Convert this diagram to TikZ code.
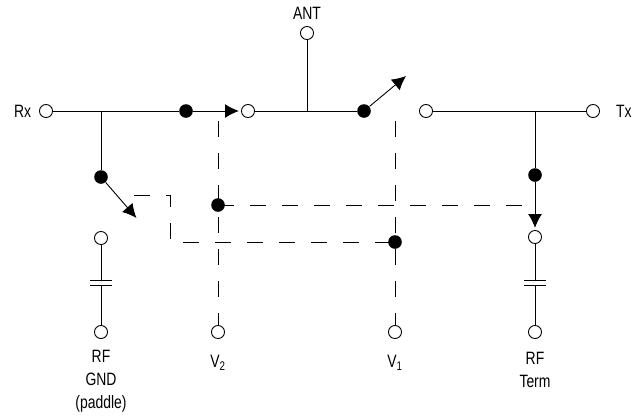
\documentclass[tikz,border=0pt]{standalone}
\usepackage{fontspec}
\setmainfont[FakeStretch=0.78]{Liberation Sans}
\usetikzlibrary{arrows.meta}
\begin{document}
\begin{tikzpicture}[line width=0.68pt]
                \tikzset{ opendot/.style={circle,draw,fill=white,inner sep=0pt,minimum size=9.8pt},
                        blackdot/.style={circle,fill=black,inner sep=0pt,minimum size=10.2pt},
                        arrow/.style={-{Latex[length=10.4pt,width=10.4pt]}, shorten >=1.6pt},
                        tiparrow/.style={-{Latex[length=10.4pt,width=10.4pt]}},
                        ctrl/.style={dash pattern=on 12pt off 12pt},
                        lbl/.style={font=\fontsize{13.4}{17}\selectfont, align=center}}
                \useasboundingbox (0pt,0pt) rectangle (477pt,-311.25pt);

                % ligne principale
                \node[opendot] (rx) at (34.5pt,-83.25pt) {};
                \coordinate[right of = rx, node distance=41.25pt] (rxtee);
                \node[blackdot, right of = rx, node distance=105pt] (rxdot) {};
                \node[opendot, right of = rxdot, node distance=46.5pt] (swin) {};
                \coordinate[right of = swin, node distance=44.25pt] (anttee);
                \node[opendot, above of = anttee, node distance=58.5pt] (ant) {};
                \node[blackdot, right of = anttee, node distance=42.75pt] (txdot) {};
                \coordinate[right of = txdot, node distance=31.5pt, yshift=26.25pt] (txtip);
                \node[opendot, right of = txdot, node distance=46.5pt] (swout) {};
                \coordinate[right of = swout, node distance=81.75pt] (txtee);
                \node[opendot, right of = txtee, node distance=43.5pt] (tx) {};

                % branche RF Term
                \node[blackdot, below of = txtee, node distance=48pt] (termdot) {};
                \node[opendot, below of = termdot, node distance=46.5pt] (termtop) {};
                \node[opendot, below of = termtop, node distance=71.25pt] (termbot) {};
                \coordinate[below of = termtop, node distance=32.25pt] (termcapa);
                \coordinate[below of = termtop, node distance=36.25pt] (termcapb);

                % branche RF GND
                \node[blackdot, below of = rxtee, node distance=49.5pt] (gnddot) {};
                \coordinate[right of = gnddot, node distance=26.6pt, yshift=-30.75pt] (gndtip);
                \node[opendot, below of = gnddot, node distance=45.75pt] (gndtop) {};
                \node[opendot, below of = gndtop, node distance=70.5pt] (gndbot) {};
                \coordinate[below of = gndtop, node distance=31.5pt] (gndcapa);
                \coordinate[below of = gndtop, node distance=35.5pt] (gndcapb);

                % commandes
                \node[blackdot, right of = rxdot, node distance=24pt, yshift=-70.5pt] (vtwodot) {};
                \coordinate[above of = vtwodot, node distance=63pt] (vtwotop);
                \node[opendot, below of = vtwodot, node distance=95.25pt] (vtwo) {};
                \coordinate[right of = vtwodot, node distance=228pt] (vtwoend);
                \node[blackdot, right of = txdot, node distance=23.25pt, yshift=-98.25pt] (vonedot) {};
                \coordinate[above of = vonedot, node distance=90.75pt] (vonetop);
                \node[opendot, below of = vonedot, node distance=67.5pt] (vone) {};
                \coordinate[right of = gnddot, node distance=25pt, yshift=-13.5pt] (gndstub);
                \coordinate[right of = gndstub, node distance=27pt, yshift=-35.25pt] (gndbend);

                % Labels
                \node[lbl, left of = rx, node distance=17.6pt, yshift=-0.6pt] (rxlbl) {Rx};
                \node[lbl, right of = tx, node distance=23.2pt, yshift=-0.6pt] (txlbl) {Tx};
                \node[lbl, above of = ant, node distance=15pt] (antlbl) {ANT};
                \node[lbl, below of = gndbot, node distance=36.8pt] (gndlbl) {RF\\GND\\(paddle)};
                \node[lbl, below of = termbot, node distance=28.4pt] (termlbl) {RF\\Term};
                \node[lbl, below of = vtwo, node distance=23pt] (vtwolbl) {V\textsubscript{2}};
                \node[lbl, below of = vone, node distance=23pt] (vonelbl) {V\textsubscript{1}};

                % Fils
                \draw (rx) -- (rxdot);
                \draw[arrow] (rxdot) -- (swin);
                \draw (swin) -- (txdot);
                \draw (ant) -- (anttee);
                \draw[tiparrow] (txdot) -- (txtip);
                \draw (swout) -- (tx);
                \draw (txtee) -- (termdot);
                \draw[arrow] (termdot) -- (termtop);
                \draw (termtop) -- (termcapa);
                \draw (termcapb) -- (termbot);
                \draw ([xshift=-8.1pt]termcapa) -- ([xshift=8.1pt]termcapa);
                \draw ([xshift=-8.1pt]termcapb) -- ([xshift=8.1pt]termcapb);
                \draw (rxtee) -- (gnddot);
                \draw[tiparrow] (gnddot) -- (gndtip);
                \draw (gndtop) -- (gndcapa);
                \draw (gndcapb) -- (gndbot);
                \draw ([xshift=-8.1pt]gndcapa) -- ([xshift=8.1pt]gndcapa);
                \draw ([xshift=-8.1pt]gndcapb) -- ([xshift=8.1pt]gndcapb);

                % Pointilles
                \draw[ctrl] (vtwotop) -- (vtwo);
                \draw[ctrl] (vonetop) -- (vone);
                \draw[ctrl] (vtwodot.center) -- (vtwoend);
                \draw[ctrl] (gndstub) -| (gndbend) -- (vonedot.center);
\end{tikzpicture}
\end{document}
